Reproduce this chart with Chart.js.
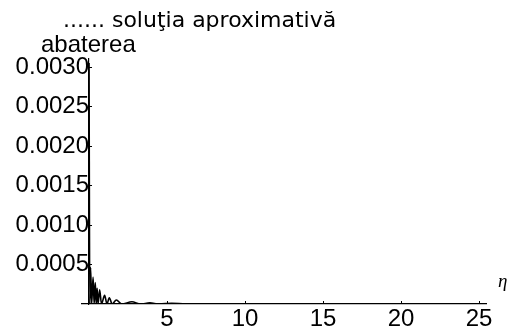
<!DOCTYPE html>
<html>
<head>
<meta charset="utf-8">
<script src="https://cdn.jsdelivr.net/npm/chart.js@4/dist/chart.umd.min.js"></script>
<style>
html,body{margin:0;padding:0;background:#fff;}
#wrap{position:relative;width:512px;height:331px;}
canvas{display:block;}
</style>
</head>
<body>
<div id="wrap"><canvas id="c" width="512" height="331"></canvas></div>
<script>
// Values
const etaValues = [0, 0.05, 0.10, 0.17, 0.26, 0.33, 0.40, 0.46, 0.52, 0.58, 0.68, 0.80, 1.00, 1.15, 1.30, 1.48, 1.75, 2.10, 2.75, 3.30, 3.90, 4.50, 5.30, 6.20, 8.00, 12.0, 16.0, 20.0, 25.0];
const abatereaValues = [0.00305, 0, 0.00046, 0, 0.00034, 0, 0.00027, 0, 0.00020, 0, 0.00018, 0, 0.00011, 0, 0.00008, 0, 0.00005, 0, 0.000028, 0, 0.000014, 0, 0.000009, 0, 0.000004, 0, 0, 0, 0];
const xTickValues = [5, 10, 15, 20, 25];
const yTickValues = [0.0005, 0.0010, 0.0015, 0.0020, 0.0025, 0.0030];
const titleText = '...... soluţia aproximativă';
const yLabelText = 'abaterea';
const xLabelText = 'η';

const points = etaValues.map((x, i) => ({x: x, y: abatereaValues[i]}));

const decor = {
  id: 'decor',
  afterDraw(chart) {
    const ctx = chart.ctx;
    const xs = chart.scales.x, ys = chart.scales.y;
    const x0 = xs.getPixelForValue(0), y0 = ys.getPixelForValue(0);
    ctx.save();
    ctx.strokeStyle = '#000';
    ctx.lineWidth = 1;
    ctx.beginPath();
    xTickValues.forEach(v => { const p = Math.round(xs.getPixelForValue(v)) + 0.5; ctx.moveTo(p, y0); ctx.lineTo(p, y0 - 3); });
    yTickValues.forEach(v => { const p = Math.round(ys.getPixelForValue(v)) + 0.5; ctx.moveTo(x0, p); ctx.lineTo(x0 + 3, p); });
    ctx.stroke();
    ctx.fillStyle = '#000';
    ctx.textBaseline = 'alphabetic';
    ctx.textAlign = 'left';
    ctx.font = '22px "DejaVu Sans"';
    ctx.fillText(titleText, 63, 27);
    ctx.font = '24px "Liberation Sans"';
    ctx.fillText(yLabelText, 41, 52);
    ctx.font = 'italic 19px "Liberation Serif"';
    ctx.fillText(xLabelText, 498, 287);
    ctx.restore();
  }
};

new Chart(document.getElementById('c'), {
  type: 'line',
  data: {
    datasets: [{
      data: points,
      borderColor: '#000',
      borderWidth: 1.6,
      pointRadius: 0,
      fill: false,
      cubicInterpolationMode: 'monotone'
    }]
  },
  options: {
    responsive: false,
    animation: false,
    events: [],
    layout: {padding: {left: 82, top: 59, right: 26, bottom: 0}},
    plugins: {legend: {display: false}, tooltip: {enabled: false}, title: {display: false}},
    scales: {
      x: {
        type: 'linear',
        position: 'bottom',
        min: -0.45, max: 25.45,
        afterFit: s => { s.height = 27; },
        afterBuildTicks: s => { s.ticks = xTickValues.map(v => ({value: v})); },
        grid: {display: false, drawTicks: false},
        border: {display: true, color: '#000', width: 1.2},
        ticks: {color: '#000', font: {family: '"Liberation Sans"', size: 24}, padding: 1, maxRotation: 0, autoSkip: false, callback: v => String(v)}
      },
      y: {
        type: 'linear',
        position: {x: 0},
        min: 0, max: 0.0031,
        afterBuildTicks: s => { s.ticks = yTickValues.map(v => ({value: v})); },
        grid: {display: false, drawTicks: false},
        border: {display: true, color: '#000', width: 1.2},
        ticks: {color: '#000', font: {family: '"Liberation Sans"', size: 24}, padding: 3, autoSkip: false, callback: v => v.toFixed(4)}
      }
    }
  },
  plugins: [decor]
});
</script>
</body>
</html>
